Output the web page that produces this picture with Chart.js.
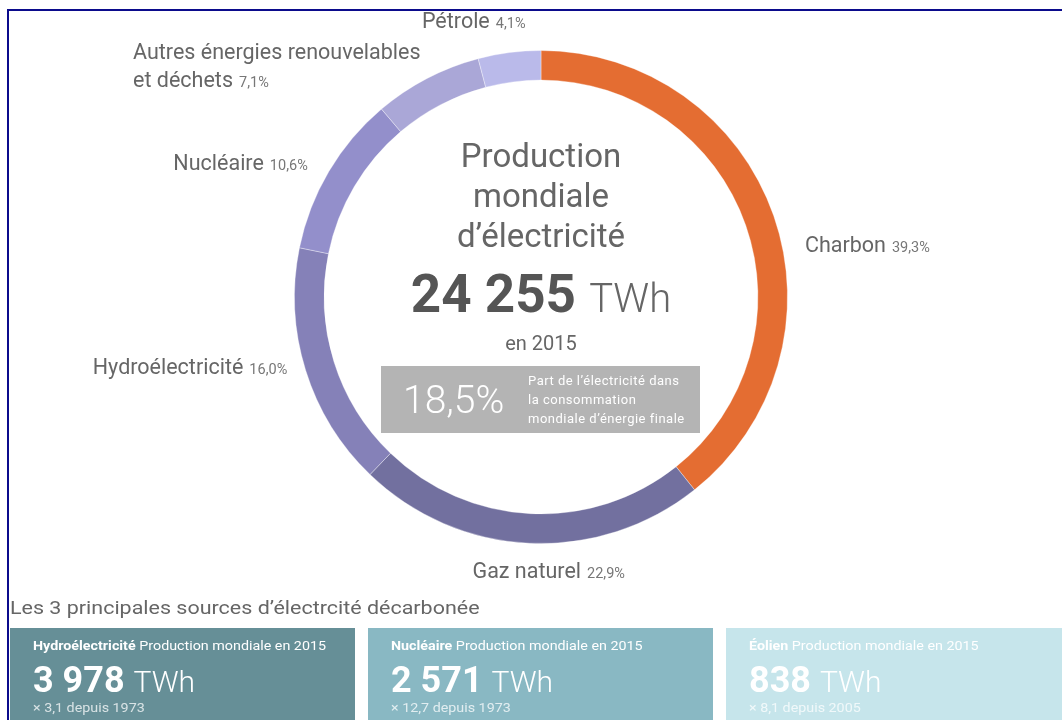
<!DOCTYPE html>
<html lang="fr">
<head>
<meta charset="utf-8">
<title>Production mondiale d'électricité</title>
<script src="https://cdn.jsdelivr.net/npm/chart.js@4.4.1/dist/chart.umd.min.js"></script>
<style>
  html, body { margin: 0; padding: 0; background: #fff; }
  body { width: 1062px; height: 720px; position: relative; overflow: hidden; font-family: Roboto, "Noto Sans", sans-serif; color: #666; }
  #frame { position: absolute; left: 7px; top: 9px; width: 1100px; height: 800px; border-top: 2px solid #0b0b8c; border-left: 2px solid #0b0b8c; }
  #chart { position: absolute; left: 0; top: 0; }
  .abs { position: absolute; white-space: nowrap; }
  .center { left: 341px; width: 400px; text-align: center; }
  #title { top: 136px; font-size: 33px; line-height: 40px; color: #666; }
  #total { top: 268px; font-size: 53px; line-height: 53px; font-weight: 700; color: #555; }
  #total span { font-weight: 300; font-size: 40px; color: #666; }
  #year { top: 333px; font-size: 20px; line-height: 20px; color: #666; }
  #share { left: 381px; top: 366px; width: 319px; height: 67px; background: #b4b4b4; color: #fff; }
  #share .big { position: absolute; left: 22px; top: 14px; font-size: 39px; line-height: 40px; font-weight: 300; }
  #share .small { position: absolute; left: 147px; top: 5px; font-size: 13px; line-height: 19px; letter-spacing: 0.5px; }
  #sub { left: 10px; top: 598px; font-size: 19px; line-height: 19px; color: #666; transform: scaleX(1.13); transform-origin: left center; }
  .card { position: absolute; top: 628px; width: 345px; height: 100px; color: #fff; }
  .card .head { position: absolute; left: 23px; top: 10px; font-size: 13px; line-height: 16px; transform: scaleX(1.1); transform-origin: left center; }
  .card .head b { font-weight: 700; }
  .card .num { position: absolute; left: 23px; top: 32px; font-size: 36px; line-height: 40px; font-weight: 700; }
  .card .num span { font-weight: 300; font-size: 30px; }
  .card .foot { position: absolute; left: 23px; top: 72px; font-size: 13px; line-height: 16px; opacity: 0.75; transform: scaleX(1.1); transform-origin: left center; }
</style>
</head>
<body>
<canvas id="chart" width="1062" height="720"></canvas>
<div id="frame"></div>

<div class="abs center" id="title">Production<br>mondiale<br>d’électricité</div>
<div class="abs center" id="total">24 255 <span>TWh</span></div>
<div class="abs center" id="year">en 2015</div>
<div class="abs" id="share">
  <div class="big">18,5%</div>
  <div class="small">Part de l’électricité dans<br>la consommation<br>mondiale d’énergie finale</div>
</div>

<div class="abs" id="sub">Les 3 principales sources d’électrcité décarbonée</div>
<div id="cards"></div>

<script>
// parts de la production mondiale d'électricité 2015 (%)
const sources = ['Charbon', 'Gaz naturel', 'Hydroélectricité', 'Nucléaire', 'Autres énergies renouvelables\net déchets', 'Pétrole'];
const shares = [39.3, 22.9, 16.0, 10.6, 7.1, 4.1];
const colors = ['#e46d32', '#72709f', '#8581b8', '#938fcb', '#aaa7d7', '#babaea'];

// petites cartes du bas
const cardNames = ['Hydroélectricité', 'Nucléaire', 'Éolien'];
const cardValues = ['3 978', '2 571', '838'];
const cardNotes = ['× 3,1 depuis 1973', '× 12,7 depuis 1973', '× 8,1 depuis 2005'];
const cardColors = ['#668f97', '#89b8c3', '#c6e5eb'];

// placement des étiquettes autour de l'anneau
const labelAlign = ['left', 'center', 'right', 'right', 'right', 'right'];
const labelNudge = [[18, 34], [20, 14], [-5, -7], [-9, -1], [0, 0], [18, -18]];

const cardsEl = document.getElementById('cards');
cardNames.forEach((name, i) => {
  const d = document.createElement('div');
  d.className = 'card';
  d.style.left = (10 + i * 358) + 'px';
  d.style.background = cardColors[i];
  d.innerHTML = '<div class="head"><b>' + name + '</b> Production mondiale en 2015</div>' +
    '<div class="num">' + cardValues[i] + ' <span>TWh</span></div>' +
    '<div class="foot">' + cardNotes[i] + '</div>';
  cardsEl.appendChild(d);
});

const pct = v => v.toFixed(1).replace('.', ',') + '%';
const nameFont = '21.5px Roboto';
const pctFont = '14.5px Roboto';

const outerLabels = {
  id: 'outerLabels',
  afterDatasetsDraw(chart) {
    const ctx = chart.ctx;
    const meta = chart.getDatasetMeta(0);
    ctx.save();
    ctx.textBaseline = 'alphabetic';
    ctx.textAlign = 'left';
    meta.data.forEach((arc, i) => {
      const p = arc.getProps(['x', 'y', 'startAngle', 'endAngle', 'outerRadius']);
      const mid = (p.startAngle + p.endAngle) / 2;
      const r = p.outerRadius + 14;
      const ax = p.x + Math.cos(mid) * r + labelNudge[i][0];
      const ay = p.y + Math.sin(mid) * r + labelNudge[i][1];
      const lines = sources[i].split('\n');
      const tail = pct(shares[i]);
      const lh = 28;
      const widths = lines.map((l, k) => {
        ctx.font = nameFont;
        let w = ctx.measureText(l).width;
        if (k === lines.length - 1) {
          ctx.font = pctFont;
          w += 6 + ctx.measureText(tail).width;
        }
        return w;
      });
      const blockW = Math.max(...widths);
      let left = ax;
      if (labelAlign[i] === 'right') left = ax - blockW;
      if (labelAlign[i] === 'center') left = ax - blockW / 2;
      lines.forEach((l, k) => {
        const by = ay - (lines.length - 1) * lh / 2 + k * lh + 7;
        ctx.font = nameFont;
        ctx.fillStyle = '#666';
        ctx.fillText(l, left, by);
        if (k === lines.length - 1) {
          const w = ctx.measureText(l).width;
          ctx.font = pctFont;
          ctx.fillStyle = '#777';
          ctx.fillText(tail, left + w + 6, by);
        }
      });
    });
    ctx.restore();
  }
};

new Chart(document.getElementById('chart'), {
  type: 'doughnut',
  data: {
    labels: sources,
    datasets: [{
      data: shares,
      backgroundColor: colors,
      borderColor: 'rgba(255,255,255,0.35)',
      borderWidth: 1
    }]
  },
  options: {
    responsive: false,
    animation: false,
    devicePixelRatio: 1,
    cutout: '88%',
    layout: { padding: { left: 294, right: 274, top: 50, bottom: 176 } },
    plugins: {
      legend: { display: false },
      tooltip: { enabled: false }
    }
  },
  plugins: [outerLabels]
});
</script>
</body>
</html>
